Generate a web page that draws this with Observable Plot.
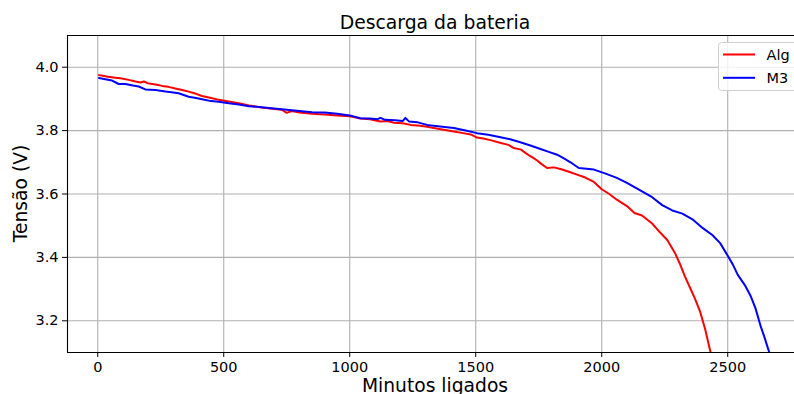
<!DOCTYPE html>
<html><head><meta charset="utf-8">
<script src="https://cdn.jsdelivr.net/npm/d3@7"></script>
<script src="https://cdn.jsdelivr.net/npm/@observablehq/plot@0.6"></script>
<style>
body{margin:0;background:#fff;overflow:hidden}
svg{font-family:"DejaVu Sans",sans-serif}
</style>
</head><body><div id="chart"></div>
<script>
const titleText = "Descarga da bateria";
const xLabel = "Minutos ligados";
const yLabel = "Tensão (V)";
const seriesNames = ["Alg", "M3"];
const seriesColors = ["#ff0000", "#0000ff"];
const xTicks = [0, 500, 1000, 1500, 2000, 2500];
const yTicks = [3.2, 3.4, 3.6, 3.8, 4.0];

const algMin = [5, 20, 40, 70, 90, 123, 150, 170, 183, 200, 216, 240, 255, 280, 308, 335, 361, 390, 414, 450, 480, 520, 560, 600, 650, 700, 730, 750, 770, 800, 850, 900, 950, 1000, 1042, 1080, 1122, 1150, 1175, 1210, 1241, 1280, 1307, 1350, 1413, 1450, 1480, 1505, 1530, 1558, 1600, 1630, 1651, 1680, 1700, 1715, 1730, 1745, 1760, 1783, 1810, 1836, 1870, 1902, 1935, 1969, 2000, 2030, 2060, 2100, 2130, 2160, 2200, 2230, 2260, 2290, 2310, 2330, 2350, 2370, 2390, 2410, 2432];
const algV = [3.975, 3.973, 3.970, 3.967, 3.965, 3.960, 3.955, 3.952, 3.955, 3.949, 3.947, 3.944, 3.941, 3.938, 3.933, 3.928, 3.923, 3.916, 3.909, 3.903, 3.897, 3.892, 3.886, 3.879, 3.873, 3.868, 3.866, 3.856, 3.862, 3.857, 3.853, 3.851, 3.848, 3.845, 3.838, 3.836, 3.829, 3.830, 3.825, 3.823, 3.818, 3.815, 3.812, 3.806, 3.797, 3.792, 3.788, 3.778, 3.775, 3.770, 3.761, 3.755, 3.745, 3.740, 3.728, 3.720, 3.713, 3.705, 3.695, 3.682, 3.684, 3.679, 3.670, 3.661, 3.652, 3.638, 3.615, 3.600, 3.582, 3.562, 3.540, 3.532, 3.507, 3.480, 3.455, 3.415, 3.380, 3.340, 3.305, 3.270, 3.230, 3.175, 3.100];

const m3Min = [5, 30, 57, 83, 110, 140, 163, 189, 229, 269, 300, 321, 361, 390, 414, 450, 480, 520, 560, 600, 650, 700, 750, 800, 850, 900, 950, 1000, 1042, 1080, 1110, 1122, 1140, 1180, 1210, 1221, 1235, 1270, 1307, 1350, 1413, 1460, 1505, 1550, 1598, 1640, 1677, 1720, 1757, 1790, 1823, 1850, 1876, 1909, 1940, 1969, 2010, 2060, 2100, 2130, 2160, 2200, 2240, 2280, 2320, 2360, 2400, 2440, 2470, 2500, 2520, 2540, 2570, 2590, 2610, 2630, 2645, 2665];
const m3V = [3.966, 3.962, 3.958, 3.947, 3.947, 3.942, 3.939, 3.930, 3.928, 3.923, 3.920, 3.918, 3.907, 3.903, 3.899, 3.893, 3.891, 3.886, 3.882, 3.877, 3.874, 3.870, 3.866, 3.862, 3.858, 3.857, 3.853, 3.848, 3.839, 3.838, 3.836, 3.840, 3.834, 3.833, 3.830, 3.840, 3.829, 3.826, 3.818, 3.814, 3.808, 3.800, 3.792, 3.787, 3.779, 3.772, 3.763, 3.752, 3.742, 3.733, 3.724, 3.712, 3.700, 3.682, 3.680, 3.677, 3.666, 3.651, 3.635, 3.622, 3.608, 3.590, 3.565, 3.548, 3.538, 3.520, 3.493, 3.470, 3.445, 3.405, 3.378, 3.345, 3.310, 3.280, 3.240, 3.185, 3.150, 3.100];

const data = [
  ...algMin.map((m, i) => ({s: seriesNames[0], m, v: algV[i]})),
  ...m3Min.map((m, i) => ({s: seriesNames[1], m, v: m3V[i]}))
];

const W = 794, H = 394, mL = 67, mR = 0, mT = 35, mB = 42;
const xDomain = [-120, 2765];
const yDomain = [3.1, 4.1];

const plot = Plot.plot({
  width: W, height: H,
  marginLeft: mL, marginRight: mR, marginTop: mT, marginBottom: mB,
  style: {fontFamily: "DejaVu Sans, sans-serif", fontSize: "14.5px", color: "#000", background: "#fff", overflow: "visible"},
  x: {domain: xDomain},
  y: {domain: yDomain},
  color: {domain: seriesNames, range: seriesColors},
  marks: [
    Plot.gridX(xTicks, {stroke: "#b0b0b0", strokeOpacity: 1, strokeWidth: 1.1}),
    Plot.gridY(yTicks, {stroke: "#b0b0b0", strokeOpacity: 1, strokeWidth: 1.1}),
    Plot.line(data, {x: "m", y: "v", z: "s", stroke: "s", strokeWidth: 2, clip: true}),
    Plot.axisX(xTicks, {tickSize: 5, tickPadding: 4, label: null, tickFormat: d3.format("d"), fontSize: 14.5}),
    Plot.axisY(yTicks, {tickSize: 5, tickPadding: 4, label: null, tickFormat: d3.format(".1f"), fontSize: 14.5}),
    Plot.ruleX([xDomain[0]], {stroke: "#000", strokeWidth: 1.1}),
    Plot.ruleY([yDomain[0], yDomain[1]], {stroke: "#000", strokeWidth: 1.1})
  ]
});

const svg = d3.select(plot);
svg.append("text").attr("x", 435).attr("y", 29).attr("text-anchor", "middle")
  .attr("font-size", 18.8).attr("fill", "#000").text(titleText);
svg.append("text").attr("x", 435).attr("y", 391.5).attr("text-anchor", "middle")
  .attr("font-size", 18.7).attr("fill", "#000").text(xLabel);
svg.append("text").attr("transform", "translate(27,193.5) rotate(-90)").attr("text-anchor", "middle")
  .attr("font-size", 18.7).attr("fill", "#000").text(yLabel);

const lg = svg.append("g");
lg.append("rect").attr("x", 718.5).attr("y", 42.5).attr("width", 90).attr("height", 48)
  .attr("rx", 3).attr("fill", "#fff").attr("fill-opacity", 0.8).attr("stroke", "#d0d0d0");
seriesNames.forEach((n, i) => {
  const y = 54.5 + i * 23.3;
  lg.append("line").attr("x1", 723).attr("x2", 755).attr("y1", y).attr("y2", y)
    .attr("stroke", seriesColors[i]).attr("stroke-width", 2);
  lg.append("text").attr("x", 766.5).attr("y", y).attr("dy", "0.35em").attr("text-anchor", "start")
    .attr("font-size", 14.5).attr("fill", "#000").text(n);
});

document.getElementById("chart").appendChild(plot);
</script>
</body></html>
